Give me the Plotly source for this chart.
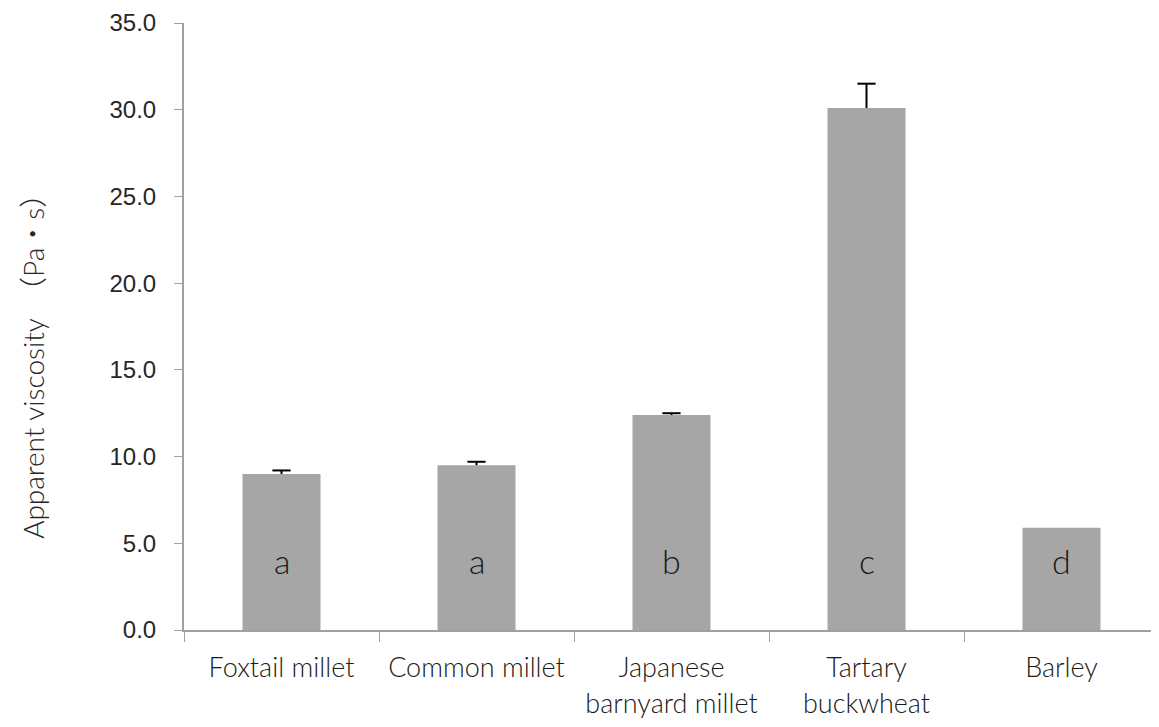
import plotly.graph_objects as go

categories = ["Foxtail millet", "Common millet", "Japanese<br>barnyard millet", "Tartary<br>buckwheat", "Barley"]
viscosity = [9.0, 9.5, 12.4, 30.1, 5.9]
errors = [0.2, 0.2, 0.1, 1.4, None]
letters = ["a", "a", "b", "c", "d"]
letter_y = 3.9
y_ticks = [0, 5, 10, 15, 20, 25, 30, 35]
y_title = "Apparent viscosity　（Pa・s）"

cap_y = [v + e if e is not None else None for v, e in zip(viscosity, errors)]

fig = go.Figure()
fig.add_trace(go.Bar(
    x=categories, y=viscosity,
    marker=dict(color="#a6a6a6", line=dict(width=0)),
    width=0.4,
))
# error bar: stem from bar top to cap, cap as horizontal line marker
fig.add_trace(go.Scatter(
    x=categories, y=cap_y, mode="markers",
    marker=dict(symbol="line-ew", size=13, line=dict(width=2, color="black")),
    error_y=dict(type="data", array=[0] * len(errors), symmetric=False,
                 arrayminus=[e if e is not None else 0 for e in errors],
                 color="black", thickness=2, width=0),
    hoverinfo="skip",
))
for c, l in zip(categories, letters):
    fig.add_annotation(x=c, y=letter_y, text=l, showarrow=False, yshift=2,
                       font=dict(family="Lato, DejaVu Sans", size=34, color="#1a1a1a", weight=300))

fig.add_annotation(xref="paper", yref="paper", x=-0.155, y=0.4465, text=y_title,
                   textangle=-90, showarrow=False, xanchor="center", yanchor="middle",
                   font=dict(family="Lato, Noto Sans CJK SC", size=28, color="#262626", weight=300))

fig.update_layout(
    width=1151, height=719,
    margin=dict(l=176, r=0, t=15, b=97),
    plot_bgcolor="white", paper_bgcolor="white",
    showlegend=False,
)
fig.update_xaxes(
    showline=True, linecolor="#a0a0a0", linewidth=2,
    ticks="outside", tickson="boundaries", ticklen=10, tickcolor="#a0a0a0", tickwidth=1,
    tickfont=dict(family="Lato, DejaVu Sans", size=27, color="#1a1a1a", weight=300),
    ticklabelstandoff=13,
    showgrid=False, range=[-0.5, 4.5],
)
fig.update_yaxes(
    range=[0, 35], tickvals=y_ticks, ticktext=[f"{v:.1f}" for v in y_ticks],
    showline=True, linecolor="#a0a0a0", linewidth=2,
    ticks="outside", ticklen=8, tickcolor="#a0a0a0", tickwidth=1,
    tickfont=dict(family="Liberation Sans Narrow, Liberation Sans", size=24, color="#262626"),
    ticklabelstandoff=13,
    showgrid=False, zeroline=False,
)
fig.write_html("out.html")
